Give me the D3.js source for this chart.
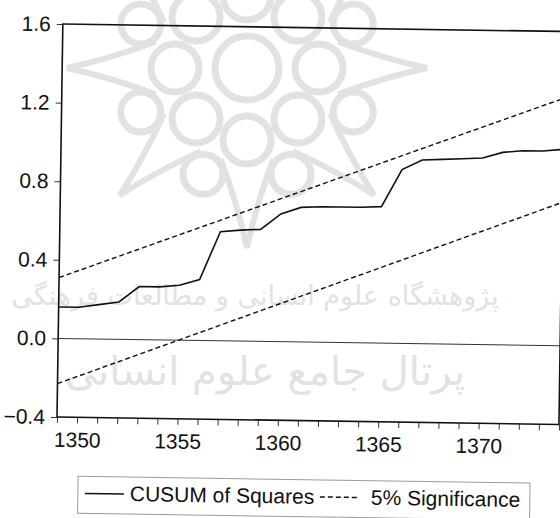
<!DOCTYPE html>
<html>
<head>
<meta charset="utf-8">
<script src="https://cdn.jsdelivr.net/npm/d3@7"></script>
<style>
  body { margin: 0; background: #fff; }
  svg { display: block; }
</style>
</head>
<body>
<div id="chart"></div>
<script>
var years = [1349, 1350, 1351, 1352, 1353, 1354, 1355, 1356, 1357, 1358, 1359, 1360, 1361,
             1362, 1363, 1364, 1365, 1366, 1367, 1368, 1369, 1370, 1371, 1372, 1373, 1374];
var cusumSq = [0.16, 0.16, 0.175, 0.19, 0.27, 0.27, 0.28, 0.31, 0.555, 0.565, 0.57, 0.65, 0.685,
               0.69, 0.69, 0.69, 0.695, 0.885, 0.935, 0.94, 0.945, 0.95, 0.98, 0.99, 0.99, 1.0];
// 5% significance bounds (straight lines, given at both ends)
var boundYears = [1349, 1374];
var upperBound = [0.31, 1.26];
var lowerBound = [-0.23, 0.73];
var yTicks = [-0.4, 0.0, 0.4, 0.8, 1.2, 1.6];
var xLabels = [1350, 1355, 1360, 1365, 1370];
var legendNames = ["CUSUM of Squares", "5% Significance"];

var W = 560, H = 518;
var mLeft = 57, mRight = 559, mTop = 24, mBottom = 417;
var font = "Liberation Sans, Arial, sans-serif";

var svg = d3.select("#chart")
  .append("svg")
    .attr("width", W)
    .attr("height", H);

// faint watermark behind the chart
var wm = svg.append("g")
  .attr("fill", "none")
  .attr("stroke", "#e2e2e2")
  .attr("stroke-width", 7);
var cx = 247, cy = 68;
wm.append("circle").attr("cx", cx).attr("cy", cy).attr("r", 32);
d3.range(8).forEach(function(i){
  var a = i * Math.PI / 4;
  wm.append("circle")
    .attr("cx", cx + 72 * Math.cos(a)).attr("cy", cy + 72 * Math.sin(a)).attr("r", 24);
  var b = a + Math.PI / 8;
  wm.append("circle")
    .attr("cx", cx + 115 * Math.cos(b)).attr("cy", cy + 115 * Math.sin(b)).attr("r", 20);
  var r0 = 95, r1 = 180, w = 0.28;
  var p = d3.path();
  p.moveTo(cx + r0 * Math.cos(a - w), cy + r0 * Math.sin(a - w));
  p.quadraticCurveTo(cx + 140 * Math.cos(a - 0.06), cy + 140 * Math.sin(a - 0.06),
                     cx + r1 * Math.cos(a), cy + r1 * Math.sin(a));
  p.quadraticCurveTo(cx + 140 * Math.cos(a + 0.06), cy + 140 * Math.sin(a + 0.06),
                     cx + r0 * Math.cos(a + w), cy + r0 * Math.sin(a + w));
  wm.append("path").attr("d", p.toString()).attr("stroke-width", 6);
});
svg.append("text")
  .attr("x", 255).attr("y", 305)
  .attr("text-anchor", "middle")
  .attr("direction", "rtl")
  .style("font-family", "DejaVu Sans")
  .style("font-size", "27px")
  .attr("fill", "#e2e2e2")
  .text("پژوهشگاه علوم انسانی و مطالعات فرهنگی");
svg.append("text")
  .attr("x", 265).attr("y", 385)
  .attr("text-anchor", "middle")
  .attr("direction", "rtl")
  .style("font-family", "DejaVu Sans")
  .style("font-size", "40px")
  .attr("fill", "#e2e2e2")
  .text("پرتال جامع علوم انسانی");

// the scan is tilted a little clockwise
var g = svg.append("g")
  .attr("transform", "rotate(0.85," + mLeft + "," + mBottom + ")");

var x = d3.scaleLinear()
  .domain([1349, 1374])
  .range([mLeft, mRight]);
var y = d3.scaleLinear()
  .domain([-0.4, 1.6])
  .range([mBottom, mTop]);

// x axis: a tick every year, labels every five
var xAxis = g.append("g")
  .attr("transform", "translate(0," + mBottom + ")")
  .call(d3.axisBottom(x).tickValues(years).tickSize(6).tickFormat(function(d){
    return xLabels.indexOf(d) >= 0 ? d : "";
  }));
xAxis.select(".domain").remove();
xAxis.selectAll("line").attr("stroke", "#333").attr("stroke-width", 1);
xAxis.selectAll("text")
  .attr("y", 15)
  .attr("fill", "#111")
  .style("font-family", font)
  .style("font-size", "21px");

var yAxis = g.append("g")
  .attr("transform", "translate(" + mLeft + ",0)")
  .call(d3.axisLeft(y).tickValues(yTicks).tickSize(6).tickPadding(6).tickFormat(d3.format(".1f")));
yAxis.select(".domain").remove();
yAxis.selectAll("line").attr("stroke", "#333");
yAxis.selectAll("text")
  .attr("fill", "#111")
  .style("font-family", font)
  .style("font-size", "21px");

// zero line
g.append("line")
  .attr("x1", x(1349)).attr("x2", x(1374))
  .attr("y1", y(0)).attr("y2", y(0))
  .attr("stroke", "#333").attr("stroke-width", 1);

// frame
g.append("rect")
  .attr("x", x(1349)).attr("y", y(1.6))
  .attr("width", x(1374) - x(1349))
  .attr("height", y(-0.4) - y(1.6))
  .attr("fill", "none")
  .attr("stroke", "#111")
  .attr("stroke-width", 1.6);

var line = d3.line()
  .x(function(d){ return x(d[0]); })
  .y(function(d){ return y(d[1]); });

[upperBound, lowerBound].forEach(function(b){
  g.append("path")
    .datum(d3.zip(boundYears, b))
    .attr("d", line)
    .attr("fill", "none")
    .attr("stroke", "#111")
    .attr("stroke-width", 1.4)
    .attr("stroke-dasharray", "5,3");
});

g.append("path")
  .datum(d3.zip(years, cusumSq))
  .attr("d", line)
  .attr("fill", "none")
  .attr("stroke", "#111")
  .attr("stroke-width", 1.6);

// legend
var lg = g.append("g");
lg.append("rect")
  .attr("x", 79).attr("y", 476)
  .attr("width", 452).attr("height", 37)
  .attr("fill", "none")
  .attr("stroke", "#9a9a9a")
  .attr("stroke-width", 1);
var legendItems = [
  {name: legendNames[0], x0: 86, x1: 125, tx: 131, dash: null},
  {name: legendNames[1], x0: 321, x1: 361, tx: 372, dash: "5,3"}
];
legendItems.forEach(function(it){
  lg.append("line")
    .attr("x1", it.x0).attr("x2", it.x1)
    .attr("y1", 493).attr("y2", 493)
    .attr("stroke", "#111")
    .attr("stroke-width", 1.5)
    .attr("stroke-dasharray", it.dash);
  lg.append("text")
    .attr("x", it.tx).attr("y", 500)
    .attr("fill", "#111")
    .style("font-family", font)
    .style("font-size", "21px")
    .text(it.name);
});
</script>
</body>
</html>
